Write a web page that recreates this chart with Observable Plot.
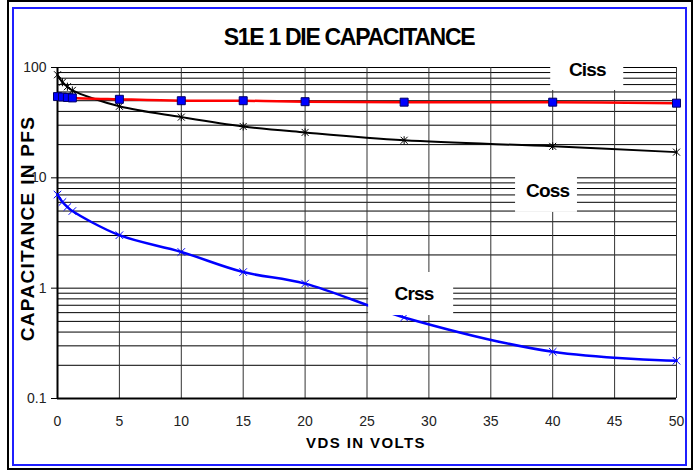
<!DOCTYPE html>
<html>
<head>
<meta charset="utf-8">
<script src="https://cdn.jsdelivr.net/npm/d3@7"></script>
<script src="https://cdn.jsdelivr.net/npm/@observablehq/plot@0.6"></script>
<style>
  body { margin: 0; background: #fff; }
  #wrap { position: relative; width: 699px; height: 470px; overflow: hidden; font-family: "Liberation Sans", Arial, sans-serif; }
  #chart { position: absolute; left: 0; top: 0; }
  #outer { position: absolute; left: 7px; top: 0; width: 686px; height: 470px; border: 2px solid #000; box-sizing: border-box; }
  #inner { position: absolute; left: 12px; top: 7px; width: 675px; height: 459px; border: 2px solid #1f1fff; box-sizing: border-box; }
</style>
</head>
<body>
<div id="wrap">
  <div id="chart"></div>
  <div id="outer"></div>
  <div id="inner"></div>
</div>
<script>
// ---- data ----
const title = "S1E 1 DIE CAPACITANCE";
const xLabel = "VDS IN VOLTS";
const yLabel = "CAPACITANCE IN PFS";
const vds  = [0, 0.4, 0.8, 1.2, 5, 10, 15, 20, 28, 40, 50];
const ciss = [54.5, 54, 53.5, 53, 51.5, 50, 50, 49, 48.5, 48.5, 47.5];
const coss = [86, 73.5, 67, 62, 44.5, 35.5, 29.2, 25.8, 21.9, 19.3, 17.1];
const crss = [7.05, 6.04, 5.44, 5.0, 3.02, 2.13, 1.40, 1.10, 0.543, 0.265, 0.22];
const xTicks = [0, 5, 10, 15, 20, 25, 30, 35, 40, 45, 50];
const yTicks = [0.1, 1, 10, 100];
const yTickLabels = ["0.1", "1", "10", "100"];
// series labels (text, anchor) and their white boxes, in data units
const seriesNames = ["Ciss", "Coss", "Crss"];
const labelX  = [42.8, 39.6, 28.8];
const labelY  = [95.9, 7.67, 0.895];
const boxX1 = [39.84, 37.0, 25.13];
const boxX2 = [45.74, 42.0, 32.0];
const boxY1 = [115.7, 17.7, 1.387];
const boxY2 = [61.9, 4.86, 0.565];

const rows = vds.map((v, i) => ({v, ciss: ciss[i], coss: coss[i], crss: crss[i]}));
const labels = seriesNames.map((name, i) => ({name, x: labelX[i], y: labelY[i], x1: boxX1[i], x2: boxX2[i], y1: boxY1[i], y2: boxY2[i]}));
const yGrid = [0.1, 1, 10].flatMap(d => [2,3,4,5,6,7,8,9].map(k => +(k * d).toPrecision(3))).concat([1, 10, 100]);

// Excel-style star marker: an "x" with a vertical bar
const star = {
  draw(context, size) {
    const r = Math.sqrt(size / Math.PI);
    context.moveTo(-r, -r); context.lineTo(r, r);
    context.moveTo(-r, r); context.lineTo(r, -r);
    context.moveTo(0, -r * 1.15); context.lineTo(0, r * 1.15);
  }
};

const font = "'Liberation Sans', Arial, sans-serif";

const chart = Plot.plot({
  width: 699,
  height: 470,
  marginLeft: 57,
  marginRight: 23,
  marginTop: 67,
  marginBottom: 72,
  style: {fontFamily: font, background: "transparent", overflow: "visible"},
  x: {domain: [0, 50]},
  y: {type: "log", domain: [0.1, 100]},
  marks: [
    Plot.ruleY(yGrid, {stroke: "#000", strokeWidth: 1}),
    Plot.ruleX(xTicks.slice(1), {stroke: "#333", strokeWidth: 1}),
    Plot.ruleX([0], {stroke: "#000", strokeWidth: 2}),
    Plot.ruleY([0.1], {stroke: "#000", strokeWidth: 2}),
    Plot.axisY(yTicks, {tickSize: 6, tickPadding: 5, fontSize: 14, fill: "#222", tickFormat: (d) => yTickLabels[yTicks.indexOf(d)], label: null}),
    Plot.axisX(xTicks, {tickSize: 0, tickPadding: 18, fontSize: 14, fill: "#222", label: null}),
    Plot.line(rows, {x: "v", y: "coss", stroke: "#000", strokeWidth: 2, curve: "catmull-rom"}),
    Plot.line(rows, {x: "v", y: "ciss", stroke: "#ff0000", strokeWidth: 2.5, curve: "catmull-rom"}),
    Plot.line(rows, {x: "v", y: "crss", stroke: "#0000ff", strokeWidth: 2.5, curve: "catmull-rom"}),
    Plot.dot(rows, {x: "v", y: "coss", symbol: star, r: 3.5, fill: "none", stroke: "#000", strokeWidth: 1}),
    Plot.dot(rows, {x: "v", y: "crss", symbol: "times", r: 3.5, fill: "none", stroke: "#0000ff", strokeWidth: 1}),
    Plot.dot(rows, {x: "v", y: "ciss", symbol: "square", r: 4.5, fill: "#0000ff", stroke: "#000066", strokeWidth: 1}),
    Plot.rect(labels, {x1: "x1", x2: "x2", y1: "y1", y2: "y2", fill: "#fff"}),
    Plot.text(labels, {x: "x", y: "y", text: "name", fontSize: 19, fontWeight: "bold", fill: "#000"}),
    Plot.text([title], {frameAnchor: "top", lineAnchor: "middle", dx: -18, dy: -30, fontSize: 23, fontWeight: "bold", fill: "#000"}),
    Plot.text([xLabel], {frameAnchor: "bottom", lineAnchor: "middle", dx: -1, dy: 45, fontSize: 15, fontWeight: "bold", fill: "#000"}),
    Plot.text([yLabel], {frameAnchor: "left", textAnchor: "middle", lineAnchor: "middle", dx: -29.5, dy: -4.5, rotate: -90, fontSize: 19, fontWeight: "bold", fill: "#000"})
  ]
});

const spacing = {"Ciss": "-0.8px", "Coss": "-0.8px", "Crss": "-0.8px"};
spacing[title] = "-1.3px";
spacing[xLabel] = "1.4px";
spacing[yLabel] = "1.3px";
d3.select(chart).selectAll("text").each(function () {
  const t = this.textContent;
  if (spacing[t] !== undefined) this.setAttribute("letter-spacing", spacing[t]);
});

document.getElementById("chart").appendChild(chart);
</script>
</body>
</html>
